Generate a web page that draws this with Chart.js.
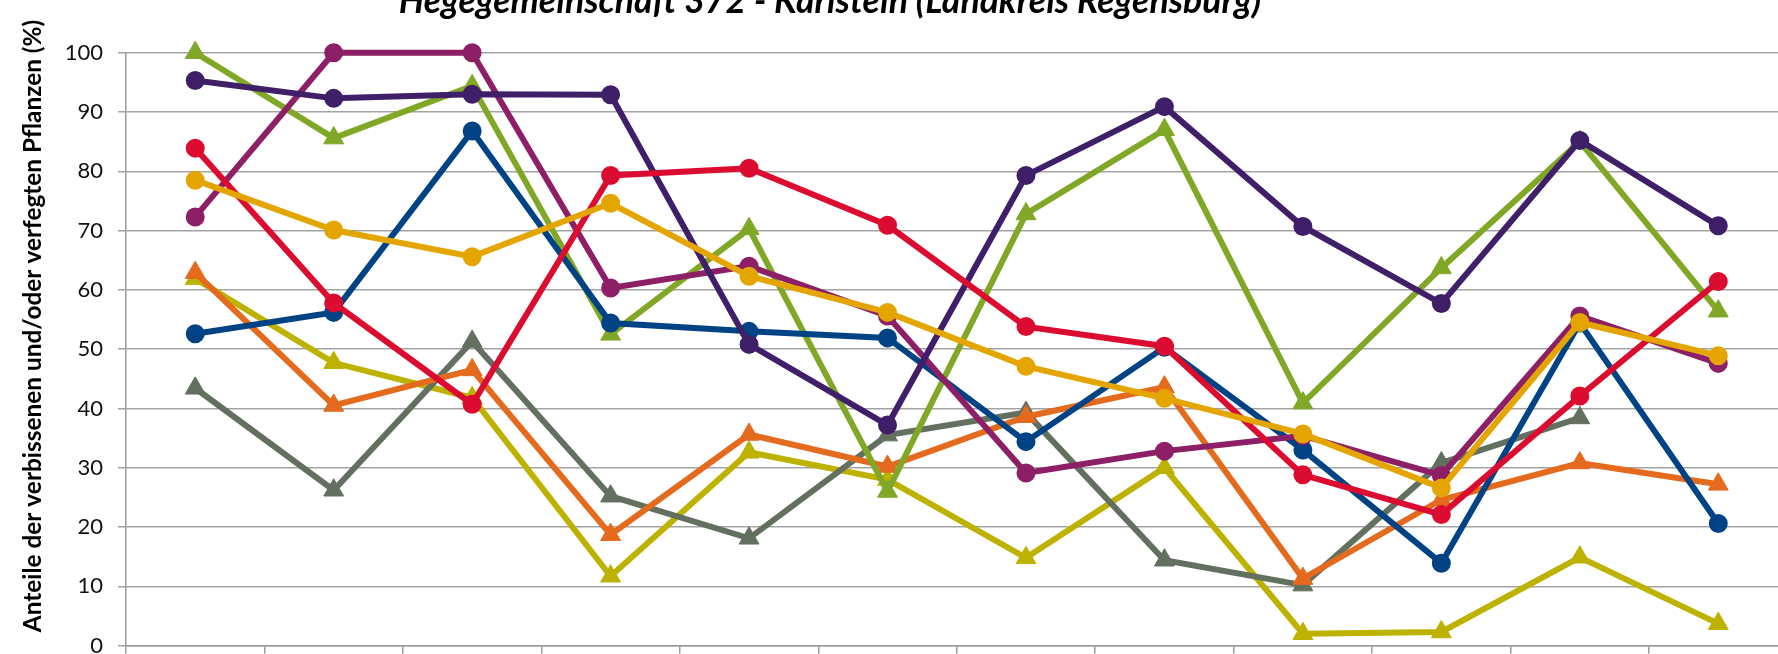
<!DOCTYPE html>
<html lang="de">
<head>
<meta charset="utf-8">
<title>Hegegemeinschaft 372 - Karlstein</title>
<script src="https://cdn.jsdelivr.net/npm/chart.js@4.4.1/dist/chart.umd.min.js"></script>
<style>
  html, body { margin: 0; padding: 0; background: #fff; overflow: hidden; }
  #wrap { position: absolute; left: 0; top: 0; width: 1800px; height: 720px; }
</style>
</head>
<body>
<div id="wrap"><canvas id="chart" width="1800" height="720"></canvas></div>
<script>
// ==== Daten ====
const years = ["1991", "1994", "1997", "2000", "2003", "2006", "2009", "2012", "2015", "2018", "2021", "2024"];
const yTicks = [0, 10, 20, 30, 40, 50, 60, 70, 80, 90, 100];

const chartTitle = "Hegegemeinschaft 372 - Karlstein (Landkreis Regensburg)";
const yTitle = "Anteile der verbissenen und/oder verfegten Pflanzen (%)";

// Kreise
const navy    = [52.6, 56.2, 86.8, 54.4, 53.0, 51.9, 34.4, 50.3, 33.0, 13.9, 54.4, 20.6];
const purple  = [95.3, 92.3, 93.0, 92.9, 50.8, 37.2, 79.3, 90.9, 70.7, 57.7, 85.2, 70.8];
const red     = [83.9, 57.8, 40.7, 79.3, 80.5, 70.9, 53.8, 50.5, 28.8, 22.1, 42.1, 61.4];
const magenta = [72.3, 100, 100, 60.3, 64.0, 55.6, 29.1, 32.8, 35.4, 28.7, 55.6, 47.6];
const gold    = [78.5, 70.1, 65.6, 74.6, 62.3, 56.2, 47.1, 41.7, 35.7, 26.6, 54.5, 48.9];
// Dreiecke
const green   = [100, 85.6, 94.4, 52.5, 70.3, 26.0, 72.8, 87.0, 40.9, 63.7, 85.0, 56.4];
const olive   = [61.9, 47.7, 41.8, 11.7, 32.6, 28.0, 14.8, 30.0, 2.0, 2.3, 14.9, 3.7];
const orange  = [62.9, 40.5, 46.5, 18.7, 35.6, 30.2, 38.6, 43.6, 11.3, 24.6, 30.8, 27.2];
const gray    = [43.4, 26.2, 51.3, 25.2, 18.1, 35.5, 39.3, 14.4, 10.2, 30.8, 38.4, null];

const FONT = 'Lato, "Liberation Sans", sans-serif';

// ==== Datensaetze (erster liegt oben) ====
function series(label, data, color, shape) {
  const tri = shape === "triangle";
  return {
    label: label,
    data: data,
    borderColor: color,
    backgroundColor: color,
    borderWidth: 6,
    tension: 0,
    spanGaps: false,
    clip: false,
    pointStyle: shape,
    pointRadius: tri ? 11.5 : 8.5,
    pointBorderWidth: tri ? 1 : 2,
    pointBorderColor: color,
    pointBackgroundColor: color,
    pointHoverRadius: tri ? 11.5 : 8.5
  };
}

const datasets = [
  series("Reihe 5", gold, "#E5A500", "circle"),
  series("Reihe 3", red, "#DC0B30", "circle"),
  series("Reihe 2", purple, "#3E1F68", "circle"),
  series("Reihe 4", magenta, "#8C1F66", "circle"),
  series("Reihe 1", navy, "#004385", "circle"),
  series("Reihe 6", green, "#80A826", "triangle"),
  series("Reihe 8", orange, "#E46A1E", "triangle"),
  series("Reihe 9", gray, "#637060", "triangle"),
  series("Reihe 7", olive, "#BDB200", "triangle")
];

// ==== Titel (oben angeschnitten) und Achsentitel ====
function fitFont(ctx, text, style, width) {
  ctx.font = style + " 20px " + FONT;
  const size = 20 * width / ctx.measureText(text).width;
  ctx.font = style + " " + size.toFixed(1) + "px " + FONT;
}

const titlePlugin = {
  id: "titles",
  afterDraw(chart) {
    const ctx = chart.ctx;
    ctx.save();
    ctx.fillStyle = "#000";
    fitFont(ctx, chartTitle, "italic bold", 862);
    ctx.textAlign = "center";
    ctx.textBaseline = "alphabetic";
    ctx.fillText(chartTitle, 830, 13);

    ctx.translate(33, 326);
    ctx.rotate(-Math.PI / 2);
    fitFont(ctx, yTitle, "bold", 612);
    ctx.textBaseline = "middle";
    ctx.fillText(yTitle, 0, 0);
    ctx.restore();
  }
};

// ==== Diagramm ====
const chart = new Chart(document.getElementById("chart"), {
  type: "line",
  data: { labels: years, datasets: datasets },
  plugins: [titlePlugin],
  options: {
    responsive: false,
    animation: false,
    devicePixelRatio: 1,
    layout: { padding: { top: 52.7, right: 9.6, bottom: 66.4, left: 0 } },
    plugins: {
      legend: { display: false },
      title: { display: false },
      tooltip: { enabled: false }
    },
    scales: {
      x: {
        type: "category",
        offset: true,
        grid: {
          offset: true,
          drawOnChartArea: false,
          drawTicks: true,
          tickLength: 8,
          color: "#9a9a9a",
          lineWidth: 1.5
        },
        border: { color: "#9a9a9a", width: 1.5 },
        ticks: { display: false }
      },
      y: {
        min: 0,
        max: 100,
        afterBuildTicks: (scale) => { scale.ticks = yTicks.map(v => ({ value: v })); },
        afterFit: (scale) => { scale.width = 126; },
        grid: {
          color: "#a3a3a3",
          lineWidth: 1.5,
          drawTicks: true,
          tickLength: 8
        },
        border: { color: "#9a9a9a", width: 1.5 },
        ticks: {
          padding: 15,
          color: "#111",
          font: { family: FONT, size: 22 }
        }
      }
    }
  }
});
</script>
</body>
</html>
